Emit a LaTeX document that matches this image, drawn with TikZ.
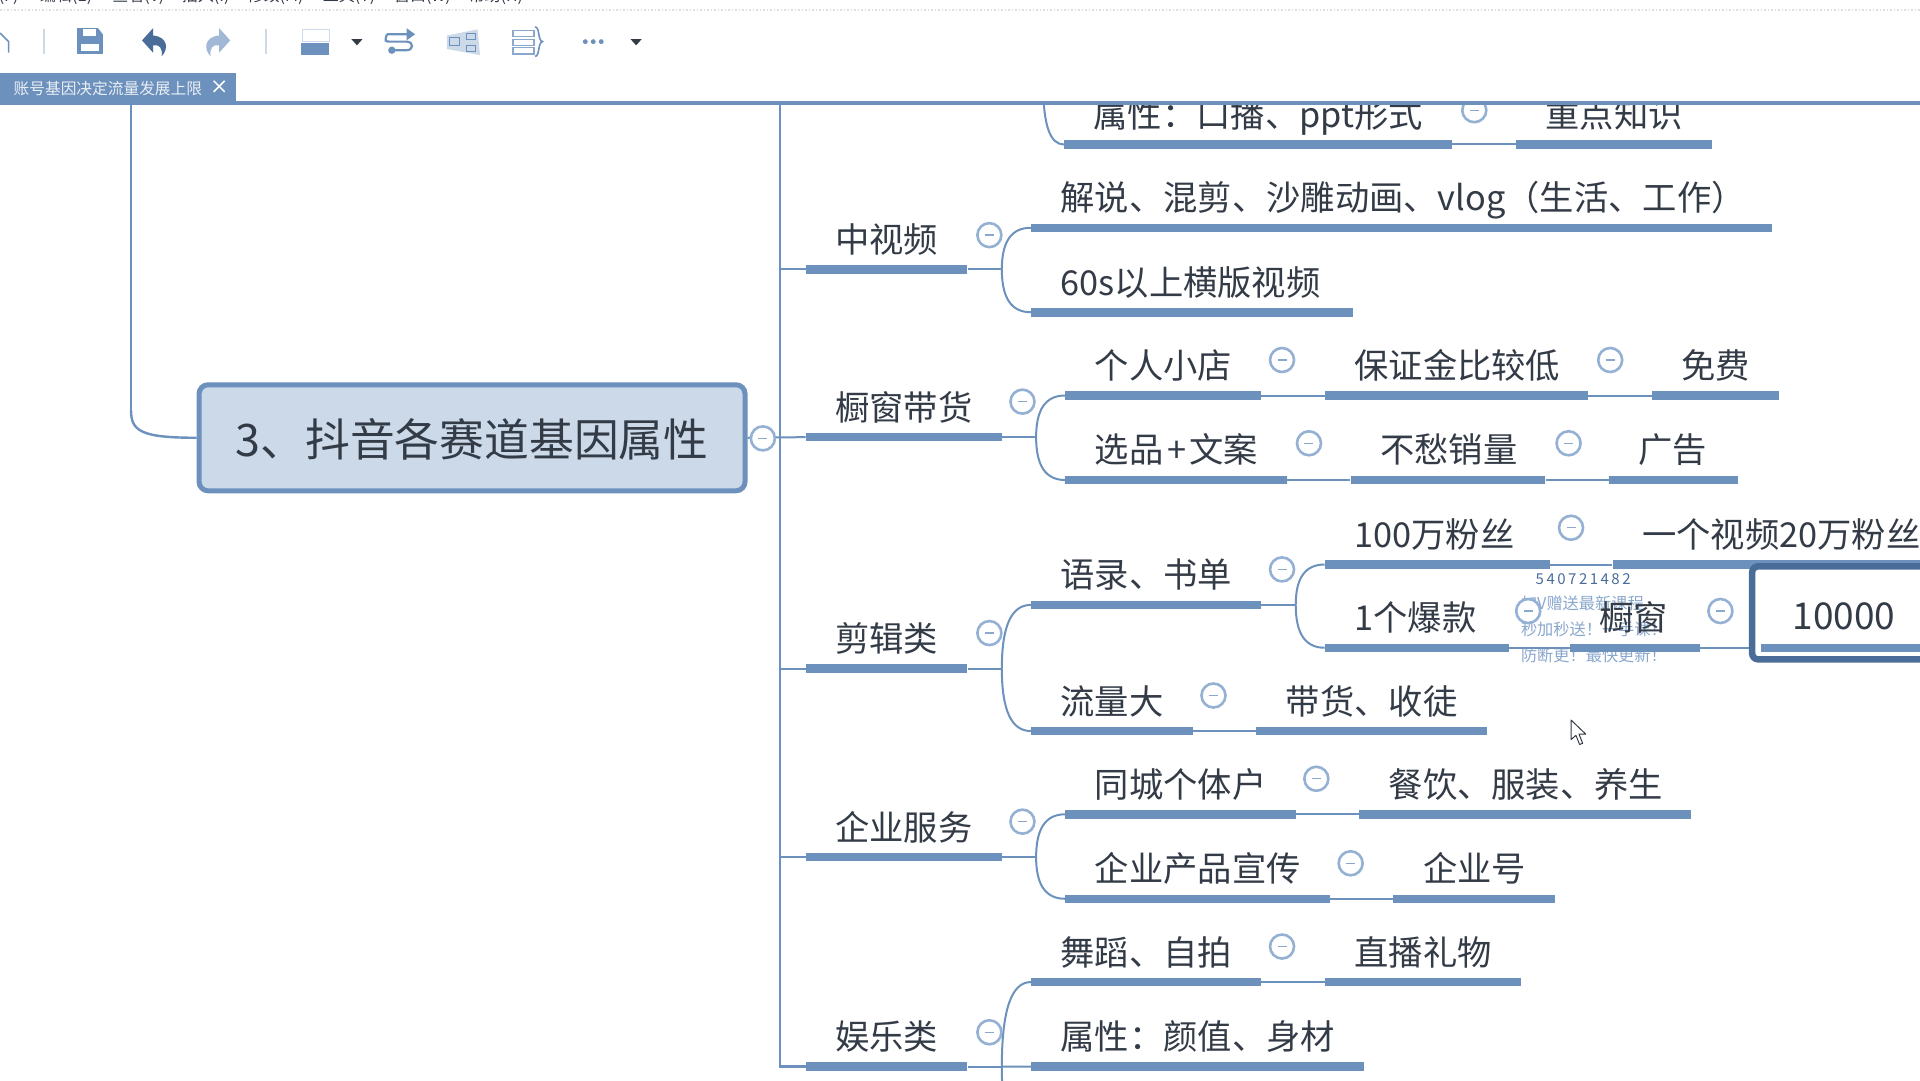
\documentclass[tikz,border=0pt]{standalone}
\usepackage{fontspec}
\setmainfont{Noto Sans CJK SC}
\usetikzlibrary{calc}
\definecolor{barblue}{HTML}{6D91BD}
\definecolor{inkdark}{HTML}{333B47}
\definecolor{rootfill}{HTML}{CBD9E8}
\definecolor{ringblue}{HTML}{94B1D4}
\definecolor{markblue}{HTML}{8AA8CC}
\definecolor{selblue}{HTML}{4A6C99}
\newcommand\fwcolon{\char"FF1A\relax}
\newcommand\fwopen{\char"FF08\relax}
\newcommand\fwclose{\char"FF09\relax}
\newcommand\fwbang{\char"FF01\relax}
\tikzset{
  x=1.2245pt,y=-1.2245pt,
  topicbar/.style={fill=barblue,draw=none,inner sep=0pt,minimum height=8.5pt,text height=0pt,text depth=0pt},
  topiclabel/.style={anchor=west,inner sep=0pt,text=inkdark,text height=29pt,text depth=5pt,font=\fontsize{34.3}{36}\selectfont},
  linkline/.style={draw=barblue,line width=2pt},
  spineline/.style={draw=barblue,line width=2.4pt},
  ringnode/.style={circle,draw=ringblue,fill=white,line width=2.6pt,minimum size=24pt,inner sep=0pt},
  minusmark/.style={draw=markblue,line width=1.4pt},
  toolfill/.style={fill=barblue,draw=none},
  toolline/.style={draw=barblue,line width=1.6pt},
  menutext/.style={inner sep=0pt,text=inkdark,font=\fontsize{16}{18}\selectfont},
  wmtext/.style={inner sep=0pt,anchor=west,text=markblue,font=\fontsize{16.2}{18}\selectfont},
}
\newcommand\topic[5]{%
  \node[topicbar,minimum width={(#3-#2)*1.2245pt}] (#1) at ({(#2+#3)/2},#4) {};
  \node[topiclabel] (#1t) at ({#2+24},{#4-23.7}) {#5};
}
\newcommand\softcurve[2]{% f, target
  \draw[linkline] (#1) .. controls ($(#1)!0.67!(#1|-#2)$) and ($(#2)!0.67!(#1|-#2)$) .. (#2);
}
\newcommand\fork[2]{%
  \draw[linkline] (#1.east) -- ++(28,0) coordinate (f#1);
  \foreach \c in {#2} {\softcurve{f#1}{\c.west}}
}
\newcommand\joinbars[2]{\draw[linkline] (#1.east) -- (#2.west);}
\newcommand\collapse[3]{%
  \node[ringnode] (#1) at (#2,#3) {};
  \draw[minusmark] ([xshift=-4.5pt]#1.center) -- ([xshift=4.5pt]#1.center);
}
\begin{document}
\begin{tikzpicture}
\useasboundingbox (0,0) rectangle (1568,882);
\fill[white] (0,0) rectangle (1568,882);

% root
\node[draw=barblue,fill=rootfill,line width=5pt,rounded corners=9pt,inner sep=0pt,
      minimum width=546pt,minimum height=106pt,text=inkdark,text height=38pt,text depth=0pt,
      font=\fontsize{44.8}{48}\selectfont] (root) at (385.5,357.5) {3、抖音各赛道基因属性};
\coordinate (upper) at (107,84);
\coordinate (upperb) at (107,335);
\draw[spineline] (upper) -- (upperb);
\draw[spineline] (upperb) .. controls (107,352) and (115,357.5) .. (root.west);

% first level
\topic{zsp}{658}{790}{220}{中视频}
\topic{cc}{658}{818}{357}{橱窗带货}
\topic{jj}{658}{790}{546}{剪辑类}
\topic{qy}{658}{818}{700}{企业服务}
\topic{yl}{658}{790}{871}{娱乐类}

% second level
\topic{tp}{869}{1186}{118}{属性\fwcolon 口播、ppt形式}
\topic{tq}{1238}{1398}{118}{重点知识}
\topic{za}{842}{1447}{186}{解说、混剪、沙雕动画、vlog\fwopen 生活、工作\fwclose}
\topic{zb}{842}{1105}{255}{60s以上横版视频}
\topic{ca}{870}{1030}{323}{个人小店}
\topic{cb}{1082}{1297}{323}{保证金比较低}
\topic{cc3}{1349}{1453}{323}{免费}
\topic{cd}{870}{1051}{392}{选品\hspace{3.5pt}+\hspace{3.5pt}文案}
\topic{ce}{1103}{1262}{392}{不愁销量}
\topic{cf}{1314}{1419}{392}{广告}
\topic{ja}{842}{1030}{494}{语录、书单}
\topic{jb}{1082}{1266}{461}{100万粉丝}
\topic{jc}{1317}{1600}{461}{一个视频20万粉丝}
\topic{jd}{1082}{1232}{529}{1个爆款}
\topic{je}{842}{974}{597}{流量大}
\topic{jf}{1026}{1214}{597}{带货、收徒}
\topic{qa}{870}{1058}{665}{同城个体户}
\topic{qb}{1110}{1381}{665}{餐饮、服装、养生}
\topic{qc}{870}{1086}{734}{企业产品宣传}
\topic{qd}{1138}{1270}{734}{企业号}
\topic{ya}{842}{1030}{802}{舞蹈、自拍}
\topic{yb}{1082}{1242}{802}{直播礼物}
\topic{yc}{842}{1114}{871}{属性\fwcolon 颜值、身材}

% watermark, under the 橱窗 label
\node[wmtext,text=selblue,font=\fontsize{15}{16}\selectfont] (wa) at (1254,473) {5\,4\,0\,7\,2\,1\,4\,8\,2};
\node[wmtext] (wb) at (1242,493) {加V赠送最新课程};
\node[wmtext] (wc) at (1242,514) {秒加秒送\fwbang 一手课\fwbang};
\node[wmtext] (wd) at (1242,535) {防断更\fwbang 最快更新\fwbang};

\topic{jg}{1282}{1388}{529}{橱窗}

% selected topic
\node[draw=selblue,line width=6.5pt,rounded corners=6pt,fill=white,inner sep=0pt,
      minimum width=250pt,minimum height=93pt] (selbox) at (1533,500.5) {};
\node[topicbar,minimum width=200pt] (jh) at (1520,529) {};
\node[topiclabel,anchor=center,font=\fontsize{37}{38}\selectfont] (jht) at (1506,504) {10000};

% spine and branches
\coordinate (spinetop) at (637,84);
\coordinate (spinebot) at (637,871);
\draw[spineline] (spinetop) -- (spinebot) -- (yl.west);
\draw[linkline] (root.east) -- (cc.west);
\foreach \b in {zsp,jj,qy} {\draw[linkline] (\b.west) -- (spinetop|-\b.west);}

% forks
\coordinate (offb) at (842,945);
\coordinate (ftop) at (852,70);
\softcurve{ftop}{tp.west}
\fork{zsp}{za,zb}
\fork{cc}{ca,cd}
\fork{jj}{ja,je}
\fork{qy}{qa,qc}
\fork{yl}{ya,yc,offb}
\fork{ja}{jb,jd}

% in-line joins
\joinbars{tp}{tq}
\joinbars{ca}{cb}
\joinbars{cb}{cc3}
\joinbars{cd}{ce}
\joinbars{ce}{cf}
\joinbars{jb}{jc}
\joinbars{jd}{jg}
\joinbars{je}{jf}
\joinbars{qa}{qb}
\joinbars{qc}{qd}
\joinbars{ya}{yb}
\draw[linkline] (jg.east) -- (selbox.west|-jg.east);

% collapse marks
\collapse{r0}{623}{358}
\collapse{r1}{808}{192}
\collapse{r2}{835}{328}
\collapse{r3}{808}{517}
\collapse{r4}{835}{671}
\collapse{r5}{808}{843}
\collapse{s0}{1204}{90}
\collapse{s1}{1047}{294}
\collapse{s2}{1315}{294}
\collapse{s3}{1069}{362}
\collapse{s4}{1281}{362}
\collapse{s5}{1047}{465}
\collapse{s6}{1283}{431}
\collapse{s7}{1248}{499}
\collapse{s8}{1405}{499}
\collapse{s9}{991}{568}
\collapse{s10}{1075}{636}
\collapse{s11}{1103}{705}
\collapse{s12}{1047}{773}

% cursor
\draw[fill=white,draw=inkdark,line width=1pt,line join=round]
  (1283,588) -- (1283,604) -- (1287,600.5) -- (1290,608) -- (1292.5,607) -- (1289.5,599.5) -- (1295,599.5) -- cycle;

% window chrome, hides what scrolls above the canvas
\fill[white] (0,0) rectangle (1568,83);
\draw[draw=barblue,line width=4pt] (0,84) -- (1568,84);
\fill[barblue] (0,60) rectangle (193,84);
\node[inner sep=0pt,text=white!85!barblue,font=\fontsize{15.7}{17}\selectfont,anchor=west] (tab) at (11,72) {账号基因决定流量发展上限};
\draw[white,line width=1.5pt] (174.5,66) -- (183.5,75) (183.5,66) -- (174.5,75);
\draw[draw=gray!25,line width=1.5pt,dotted] (0,8) -- (1568,8);

% menu
\node[menutext] (m0) at (-6,-3) {文件(F)};
\node[menutext] (m1) at (54,-3) {编辑(E)};
\node[menutext] (m2) at (113,-3) {查看(V)};
\node[menutext] (m3) at (168,-3) {插入(I)};
\node[menutext] (m4) at (225,-3) {修改(M)};
\node[menutext] (m5) at (285,-3) {工具(T)};
\node[menutext] (m6) at (345,-3) {窗口(W)};
\node[menutext] (m7) at (405,-3) {帮助(H)};

% toolbar
\draw[draw=rootfill,line width=1.6pt] (36,24) -- (36,44) (217,24) -- (217,44);
\draw[toolline] (0,27) -- (7,34) -- (7,43);
% save
\fill[toolfill] (63,23) -- (80,23) -- (84,28) -- (84,44) -- (63,44) -- cycle;
\fill[white] (66,36) rectangle (81,42);
\fill[white] (68,23.5) rectangle (78,29);
% undo
\fill[selblue] (116,33) -- (125,23) -- (125,29) .. controls (137,30) and (138,40) .. (132,46) .. controls (133,39) and (130,36) .. (125,37) -- (125,43) -- cycle;
% redo
\fill[markblue!80] (188,33) -- (179,23) -- (179,29) .. controls (167,30) and (166,40) .. (172,46) .. controls (171,39) and (174,36) .. (179,37) -- (179,43) -- cycle;
% layout box
\draw[draw=rootfill,line width=1.5pt] (247,24) rectangle (269,34);
\fill[toolfill] (246,35) rectangle (269,45);
\fill[inkdark] (287,32) -- (296,32) -- (291.5,37) -- cycle;
% swap
\draw[toolline,line width=2.2pt] (316,28) -- (334,28) (316,28) .. controls (314,34) .. (320,34) -- (332,34) .. controls (338,34) and (338,41) .. (332,41) -- (322,41);
\fill[toolfill] (332,23) -- (339,28) -- (332,33) -- cycle;
\fill[toolfill] (320,41) circle (3);
% map
\fill[rootfill] (365,29) -- (390,24) -- (392,45) -- (365,40) -- cycle;
\draw[toolline,line width=1pt] (367,31) rectangle (375,37) (381,27) rectangle (388,32) (381,37) rectangle (388,42);
% list brace
\draw[draw=markblue,line width=1.3pt] (419,25) rectangle (436,30) (419,32) rectangle (436,37) (419,39) rectangle (436,44);
\draw[toolline] (437,22) .. controls (441,22) and (439,33) .. (443,34) .. controls (439,35) and (441,46) .. (437,46);
% more
\fill[toolfill] (478,34) circle (2) (484.5,34) circle (2) (491,34) circle (2);
\fill[inkdark] (515,32) -- (524,32) -- (519.5,37) -- cycle;
\end{tikzpicture}
\end{document}
